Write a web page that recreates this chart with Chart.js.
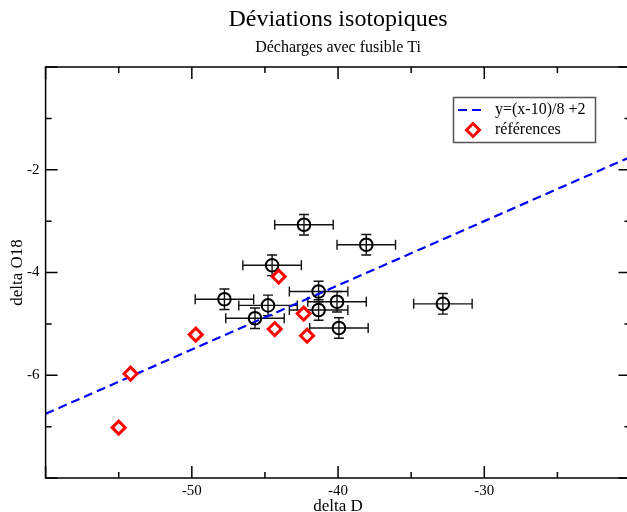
<!DOCTYPE html>
<html>
<head>
<meta charset="utf-8">
<script src="https://cdn.jsdelivr.net/npm/chart.js@4"></script>
<style>
  html, body { margin: 0; padding: 0; overflow: hidden; background: #fff; }
</style>
</head>
<body>
<canvas id="isoChart" width="640" height="512"></canvas>
<script>
const measX = [-42.33, -38.07, -44.51, -41.33, -47.77, -44.79, -40.07, -32.83, -41.33, -45.68, -39.94];
const measY = [-3.07, -3.46, -3.86, -4.37, -4.52, -4.64, -4.57, -4.61, -4.73, -4.89, -5.08];
const measErrX = [2, 2, 2, 2, 2, 2, 2, 2, 2, 2, 2];
const measErrY = [0.2, 0.2, 0.2, 0.2, 0.2, 0.2, 0.2, 0.2, 0.2, 0.2, 0.2];

const refX = [-44.06, -42.35, -44.33, -42.12, -49.73, -54.19, -55.0];
const refY = [-4.08, -4.80, -5.10, -5.23, -5.21, -5.97, -7.02];

const fitX = [-60, -20];
const fitY = [-6.75, -1.75];

const fitLabel = 'y=(x-10)/8 +2';
const refLabel = 'références';

const xMin = -60, xMax = -20, xStep = 10;
const yMin = -8, yMax = 0, yStep = 2;

const serif = "'Liberation Serif', 'Times New Roman', serif";

// error bars on the measured points
const errorBars = {
  id: 'errorBars',
  beforeDatasetsDraw(chart) {
    const { ctx, scales: { x, y } } = chart;
    ctx.save();
    ctx.strokeStyle = '#111';
    ctx.lineWidth = 1.4;
    measX.forEach((v, i) => {
      const px = x.getPixelForValue(v);
      const py = y.getPixelForValue(measY[i]);
      const x0 = x.getPixelForValue(v - measErrX[i]);
      const x1 = x.getPixelForValue(v + measErrX[i]);
      const y0 = y.getPixelForValue(measY[i] - measErrY[i]);
      const y1 = y.getPixelForValue(measY[i] + measErrY[i]);
      ctx.beginPath();
      ctx.moveTo(x0, py); ctx.lineTo(x1, py);
      ctx.moveTo(px, y0); ctx.lineTo(px, y1);
      ctx.moveTo(x0, py - 5); ctx.lineTo(x0, py + 5);
      ctx.moveTo(x1, py - 5); ctx.lineTo(x1, py + 5);
      ctx.moveTo(px - 5, y0); ctx.lineTo(px + 5, y0);
      ctx.moveTo(px - 5, y1); ctx.lineTo(px + 5, y1);
      ctx.stroke();
    });
    ctx.restore();
  }
};

// box and inward ticks on all four sides, plus the legend box
const frame = {
  id: 'frame',
  afterDatasetsDraw(chart) {
    const { ctx, chartArea: a, scales: { x, y } } = chart;
    ctx.save();
    ctx.strokeStyle = '#000';
    ctx.lineWidth = 1.5;
    ctx.strokeRect(a.left, a.top, a.right - a.left, a.bottom - a.top);
    ctx.beginPath();
    for (let v = xMin; v <= xMax; v += xStep / 2) {
      const px = x.getPixelForValue(v);
      const len = (v - xMin) % xStep === 0 ? 12 : 6;
      ctx.moveTo(px, a.bottom); ctx.lineTo(px, a.bottom - len);
      ctx.moveTo(px, a.top); ctx.lineTo(px, a.top + len);
    }
    for (let v = yMin; v <= yMax; v += yStep / 2) {
      const py = y.getPixelForValue(v);
      const len = (v - yMin) % yStep === 0 ? 12 : 6;
      ctx.moveTo(a.left, py); ctx.lineTo(a.left + len, py);
      ctx.moveTo(a.right, py); ctx.lineTo(a.right - len, py);
    }
    ctx.stroke();
    ctx.restore();
  },
  afterDraw(chart) {
    const { ctx } = chart;
    const fit = chart.data.datasets[2];
    const ref = chart.data.datasets[1];
    ctx.save();
    ctx.fillStyle = '#fff';
    ctx.fillRect(453.5, 97.5, 142, 45);
    ctx.strokeStyle = '#555';
    ctx.lineWidth = 1.5;
    ctx.strokeRect(453.5, 97.5, 142, 45);

    ctx.strokeStyle = fit.borderColor;
    ctx.lineWidth = fit.borderWidth;
    ctx.setLineDash(fit.borderDash);
    ctx.beginPath();
    ctx.moveTo(458, 110); ctx.lineTo(486, 110);
    ctx.stroke();
    ctx.setLineDash([]);

    ctx.strokeStyle = ref.borderColor;
    ctx.fillStyle = ref.backgroundColor;
    ctx.lineWidth = ref.borderWidth;
    Chart.helpers.drawPoint(ctx, { pointStyle: 'rectRot', radius: ref.pointRadius, borderWidth: ref.borderWidth, rotation: 0 }, 473, 130);

    ctx.fillStyle = '#000';
    ctx.font = '16px ' + serif;
    ctx.textBaseline = 'middle';
    ctx.fillText(fit.label, 495, 110);
    ctx.fillText(ref.label, 495, 130);
    ctx.restore();
  }
};

const ctx = document.getElementById('isoChart').getContext('2d');
const isoChart = new Chart(ctx, {
  type: 'scatter',
  data: {
    datasets: [
      {
        label: 'mesures',
        data: measX.map((v, i) => ({ x: v, y: measY[i] })),
        pointStyle: 'circle',
        pointRadius: 6.3,
        borderWidth: 2,
        borderColor: '#000',
        backgroundColor: 'rgba(0,0,0,0)',
        order: 2
      },
      {
        label: refLabel,
        data: refX.map((v, i) => ({ x: v, y: refY[i] })),
        pointStyle: 'rectRot',
        pointRadius: 6.5,
        borderWidth: 3,
        borderColor: '#ff0000',
        backgroundColor: '#fff',
        order: 1
      },
      {
        label: fitLabel,
        data: fitX.map((v, i) => ({ x: v, y: fitY[i] })),
        showLine: true,
        pointRadius: 0,
        borderColor: '#0000ff',
        borderWidth: 2.2,
        borderDash: [9, 5],
        order: 3
      }
    ]
  },
  options: {
    responsive: false,
    animation: false,
    devicePixelRatio: 1,
    layout: { padding: { top: 0, right: 9.5, bottom: 0, left: 0 } },
    plugins: {
      legend: { display: false },
      tooltip: { enabled: false },
      title: {
        display: true,
        text: 'Déviations isotopiques',
        fullSize: false,
        color: '#000',
        font: { family: serif, size: 24, weight: 'normal', lineHeight: 1.2 },
        padding: { top: 5, bottom: 2 }
      },
      subtitle: {
        display: true,
        text: 'Décharges avec fusible Ti',
        fullSize: false,
        color: '#000',
        font: { family: serif, size: 16, weight: 'normal', lineHeight: 1.2 },
        padding: { top: 2, bottom: 10.0 }
      }
    },
    scales: {
      x: {
        type: 'linear',
        min: xMin,
        max: xMax,
        grid: { display: false, drawTicks: false },
        border: { display: false },
        ticks: {
          stepSize: xStep,
          padding: 4,
          color: '#000',
          font: { family: serif, size: 15 },
          callback: v => (v === xMin || v === xMax) ? '' : v
        },
        title: {
          display: true,
          text: 'delta D',
          color: '#000',
          font: { family: serif, size: 17, lineHeight: 1 },
          padding: { top: 0, bottom: -3 }
        },
        afterFit: s => { s.height = 34; }
      },
      y: {
        type: 'linear',
        min: yMin,
        max: yMax,
        grid: { display: false, drawTicks: false },
        border: { display: false },
        ticks: {
          stepSize: yStep,
          padding: 6,
          color: '#000',
          font: { family: serif, size: 15 },
          callback: v => (v === yMin || v === yMax) ? '' : v
        },
        title: {
          display: true,
          text: 'delta O18',
          color: '#000',
          font: { family: serif, size: 17, lineHeight: 1 },
          padding: { top: 9, bottom: 0 }
        },
        afterFit: s => { s.width = 45.6; }
      }
    }
  },
  plugins: [errorBars, frame]
});
</script>
</body>
</html>
